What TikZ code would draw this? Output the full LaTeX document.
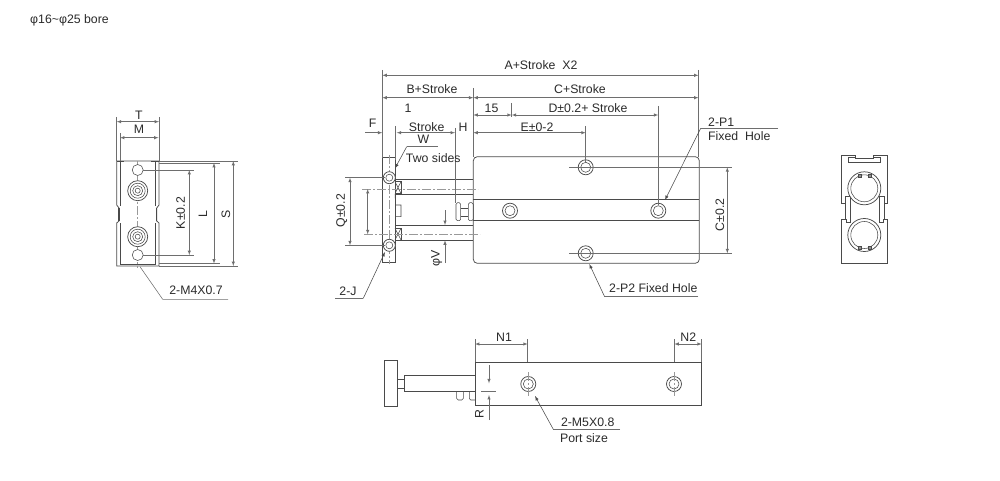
\documentclass[tikz,border=0pt]{standalone}
\usepackage{fontspec}
\setmainfont{Liberation Sans}
\usetikzlibrary{arrows}
\definecolor{inkline}{HTML}{4A4A4A}
\definecolor{dimline}{HTML}{6E6E6E}
\definecolor{inktext}{HTML}{2A2A2A}

\begin{document}
\begin{tikzpicture}[
	x=1pt, y=-1pt,
	part/.style={draw=inkline, line width=0.75pt},
	thinpart/.style={draw=inkline, line width=0.55pt},
	extline/.style={draw=dimline, line width=0.5pt},
	dim/.style={draw=dimline, line width=0.55pt, <->, >=latex},
	lead/.style={draw=dimline, line width=0.55pt},
	leadarrow/.style={draw=inkline, line width=0.55pt, ->, >=latex},
	centre/.style={draw=dimline!70, line width=0.5pt, dash pattern=on 9pt off 2pt on 2pt off 2pt},
	lbl/.style={text=inktext, inner sep=0pt, font=\fontsize{12.3}{14}\selectfont},
	lblv/.style={lbl, rotate=90},
	]
	\useasboundingbox (0,0) rectangle (1000,481);
	\node (bore) [lbl, anchor=west] at (30,20) {φ16\textasciitilde φ25 bore};

	% left end view
	\draw[part] (116.7,161) -- (159,161) -- (159,205) -- (156.7,208) -- (156.7,221) -- (159,223) -- (159,266) -- (116.7,266) -- (116.7,223) -- (119,221) -- (119,208) -- (116.7,205) -- cycle;
	\draw[thinpart] (120.5,162) -- (120.5,206) (120.5,223) -- (120.5,264) -- (155.5,264) -- (155.5,223) (155.5,206) -- (155.5,162);
	\draw[line width=1.4pt, draw=inkline] (117,161.5) -- (124,161.5) (151,161.5) -- (159,161.5);
	\draw[line width=1.3pt, draw=inkline] (119,208) -- (119,221) (156.7,208) -- (156.7,221);
	\draw[centre] (137.7,161) -- (137.7,268);
	\foreach \cy in {170,255}
		\draw[thinpart, fill=white] (137.7,\cy) circle (5.5);
	\foreach \cy in {190.7,236.7} {
		\draw[part, fill=white] (137.7,\cy) circle (10);
		\draw[thinpart] (137.7,\cy) circle (7.5);
		\draw[thinpart] (137.7,\cy) circle (5);
		\draw[thinpart] (137.7,\cy) circle (2.5);
	}
	\draw[extline] (116.7,117) -- (116.7,161) (159,117) -- (159,161) (120,133) -- (120,161);
	\draw[dim] (116.7,121.7) -- (159,121.7);
	\draw[dim] (120,137.7) -- (158.5,137.7);
	\node (dimT) [lbl] at (139,115) {T};
	\node (dimM) [lbl] at (139,129.5) {M};
	\draw[extline] (143,170) -- (194,170) (143,255) -- (194,255) (159,163) -- (220,163) (159,263.5) -- (220,263.5) (159,161) -- (238,161) (159,266) -- (238,266);
	\draw[dim] (189.3,170) -- (189.3,255);
	\draw[dim] (214,163) -- (214,263.5);
	\draw[dim] (233.3,161) -- (233.3,266);
	\node (dimK) [lblv] at (180.7,213) {K±0.2};
	\node (dimL) [lblv] at (203,214) {L};
	\node (dimS) [lblv] at (226,214) {S};
	\draw[lead] (140,266.7) -- (162.7,299.3) -- (228,299.3);
	\node (m4) [lbl] at (196,290) {2-M4X0.7};

	% main view
	\draw[part, rounded corners=4pt] (473.3,156.7) rectangle (699.3,263.3);
	\draw[part] (473.3,199.3) -- (699.3,199.3) (473.3,220.7) -- (699.3,220.7);
	\draw[thinpart] (382.3,157.7) rectangle (395,262.7);
	\draw[part] (395,179) -- (473.3,179) (395,194.3) -- (473.3,194.3) (395,225) -- (473.3,225) (395,240.3) -- (473.3,240.3);
	\draw[thinpart] (395,194.3) -- (395.7,205) -- (401,205) -- (401,216.7) -- (395.7,216.7) -- (395.7,225);
	\foreach \cy in {181.7,228.3} {
		\draw[thinpart, fill=white] (395,\cy) rectangle (401,\cy+11.7);
		\draw[thinpart] (395,\cy) -- (401,\cy+11.7) (401,\cy) -- (395,\cy+11.7);
	}
	\draw[centre] (362,189) -- (478,189);
	\draw[centre] (364,234.3) -- (480,234.3);
	\draw[centre] (389.3,155) -- (389.3,264);
	\foreach \cy in {177.7,245.3} {
		\draw[part, fill=white] (389.3,\cy) circle (6);
		\draw[thinpart] (389.3,\cy) circle (3.5);
	}
	\draw[thinpart, rounded corners=1.5pt] (456,202.7) rectangle (460.7,220.7);
	\draw[thinpart, rounded corners=1.5pt] (468.3,202.7) rectangle (473.3,220.7);
	\draw[thinpart] (460.7,208) -- (468.3,208) (460.7,216) -- (468.3,216);
	\foreach \cx/\cy in {585.7/167.3,585.7/253.3,510/210.7,658.3/210.7} {
		\draw[part, fill=white] (\cx,\cy) circle (7.5);
		\draw[thinpart] (\cx,\cy) circle (5);
	}
	\draw[extline] (569,167.3) -- (732,167.3) (569,253.3) -- (732,253.3);
	\draw[extline] (585.7,126) -- (585.7,162) (658.3,106) -- (658.3,205);

	% dimensions above main view
	\draw[extline] (382.3,70) -- (382.3,157.7);
	\draw[draw=dimline, line width=1pt] (698.5,70) -- (698.5,157);
	\draw[extline] (473.3,88) -- (473.3,157) (511.7,103) -- (511.7,117) (395.7,126) -- (395.7,160) (455,128) -- (455,203);
	\draw[dim] (382.3,75.3) -- (698.5,75.3);
	\draw[dim] (382.3,97.7) -- (473.3,97.7);
	\draw[dim] (473.3,97.7) -- (698.5,97.7);
	\draw[dim] (473.3,115) -- (511.7,115);
	\draw[dim] (511.7,115) -- (658.3,115);
	\draw[dim] (473.3,132.7) -- (585.7,132.7);
	\draw[dim] (396.7,132.7) -- (455,132.7);
	\draw[dim, ->] (365,132.7) -- (382.3,132.7);
	\node (dimA) [lbl] at (541,65) {A+Stroke\ \ X2};
	\node (dimB) [lbl] at (432,89) {B+Stroke};
	\node (dimC) [lbl] at (580,89) {C+Stroke};
	\node (dimone) [lbl] at (408,108) {1};
	\node (dimfifteen) [lbl] at (491.5,108.5) {15};
	\node (dimD) [lbl] at (588,108) {D±0.2+ Stroke};
	\node (dimE) [lbl] at (537,127.7) {E±0-2};
	\node (dimstroke) [lbl] at (426.7,126.7) {Stroke};
	\node (dimF) [lbl] at (372.7,123) {F};
	\node (dimH) [lbl] at (463,127.7) {H};
	\node (dimW) [lbl] at (423.3,139) {W};
	\node (twosides) [lbl] at (433.3,157.7) {Two sides};
	\draw[lead] (437.7,146.7) -- (406.7,146.7);
	\draw[leadarrow] (406.7,146.7) -- (395,168.3);

	% dimensions below and beside main view
	\draw[extline] (345,177.7) -- (385,177.7) (345,245.3) -- (385,245.3);
	\draw[dim] (350,177.7) -- (350,245.3);
	\draw[dim] (367.7,189) -- (367.7,234.3);
	\node (dimQ) [lblv] at (341.7,210.7) {Q±0.2};
	\draw[dim, ->] (445,210) -- (445,225);
	\draw[dim, ->] (445,263) -- (445,240.3);
	\node (dimV) [lblv] at (436.7,258) {φV};
	\draw[dim] (727.3,167.3) -- (727.3,253.3);
	\node (dimCc) [lblv] at (720,215) {C±0.2};
	\draw[lead] (335,298.3) -- (363.3,298.3);
	\draw[leadarrow] (363.3,298.3) -- (385,252);
	\node (holeJ) [lbl] at (348,291.7) {2-J};
	\draw[lead] (778,128.3) -- (700.7,128.3);
	\draw[leadarrow] (700.7,128.3) -- (665,200);
	\node (holeP) [lbl, anchor=west] at (708,122.3) {2-P1};
	\node (holeFixed) [lbl, anchor=west] at (708,135.7) {Fixed\ \ Hole};
	\draw[lead] (698.3,296) -- (604.3,296);
	\draw[leadarrow] (604.3,296) -- (589.3,264);
	\node (holePtwo) [lbl] at (653.3,288.3) {2-P2 Fixed Hole};

	% right end view
	\draw[thinpart] (855,158) -- (855,155) -- (841.7,155) -- (841.7,203) -- (845,203) -- (845,196) -- (850,196) -- (850,222) -- (846,222) -- (846,219) -- (841.7,219) -- (841.7,263) -- (887.3,263) -- (887.3,219) -- (883,219) -- (883,222) -- (879,222) -- (879,196) -- (884,196) -- (884,203) -- (887.3,203) -- (887.3,155) -- (873,155) -- (873,158) -- cycle;
	\draw[thinpart] (845,203) -- (845,219) (884,203) -- (884,219);
	\draw[thinpart] (855,157.5) -- (848.3,157.5) -- (848.3,162.3) -- (880,162.3) -- (880,157.5) -- (873,157.5);
	\foreach \cy in {188.3,235} {
		\draw[part, fill=white] (864.3,\cy) circle (16.5);
		\draw[thinpart] (864.3,\cy) circle (13.5);
	}
	\draw[thinpart, fill=inkline!60] (858,174) rectangle (861,177);
	\draw[thinpart, fill=inkline!60] (868,174) rectangle (871,177);
	\draw[thinpart, fill=inkline!60] (858,246) rectangle (861,249);
	\draw[thinpart, fill=inkline!60] (868,246) rectangle (871,249);

	% bottom view
	\draw[part] (475,362.3) rectangle (701.7,405);
	\draw[thinpart] (384,360.7) rectangle (397.7,406.7);
	\draw[thinpart] (397.7,379) -- (404.3,379) -- (404.3,388.3) -- (397.7,388.3);
	\draw[part] (404.3,375) -- (475,375);
	\draw[thinpart] (404.3,391.7) -- (475,391.7) (404.3,388.3) -- (404.3,391.7) (404.3,375) -- (404.3,379);
	\draw[thinpart, rounded corners=1.5pt] (463.3,391.7) -- (463.3,400) -- (456.7,400) -- (456.7,391.7);
	\draw[thinpart, rounded corners=1.5pt] (475,400) -- (469.3,400) -- (469.3,391.7);
	\foreach \cx in {528.3,674} {
		\draw[part, fill=white] (\cx,384) circle (7.5);
		\draw[thinpart] (\cx,384) circle (5);
		\draw[centre] (\cx,372) -- (\cx,397);
	}
	\draw[extline] (475,339) -- (475,362.3) (527.7,339) -- (527.7,362.3) (674.3,339) -- (674.3,362.3) (701.7,339) -- (701.7,362.3);
	\draw[dim] (475,344) -- (527.7,344);
	\draw[dim] (674.3,344) -- (701.7,344);
	\node (dimNone) [lbl] at (504,337) {N1};
	\node (dimNtwo) [lbl] at (688.3,337) {N2};
	\draw[extline] (481,391) -- (496,391);
	\draw[dim, ->] (489,365) -- (489,383.3);
	\draw[dim, ->] (489,420) -- (489,395);
	\node (dimR) [lblv] at (479.3,414.3) {R};
	\draw[lead] (620,429.3) -- (553.3,429.3);
	\draw[leadarrow] (553.3,429.3) -- (535,396);
	\node (portM) [lbl] at (587.7,422.7) {2-M5X0.8};
	\node (portsize) [lbl] at (584,438.3) {Port size};
\end{tikzpicture}
\end{document}
